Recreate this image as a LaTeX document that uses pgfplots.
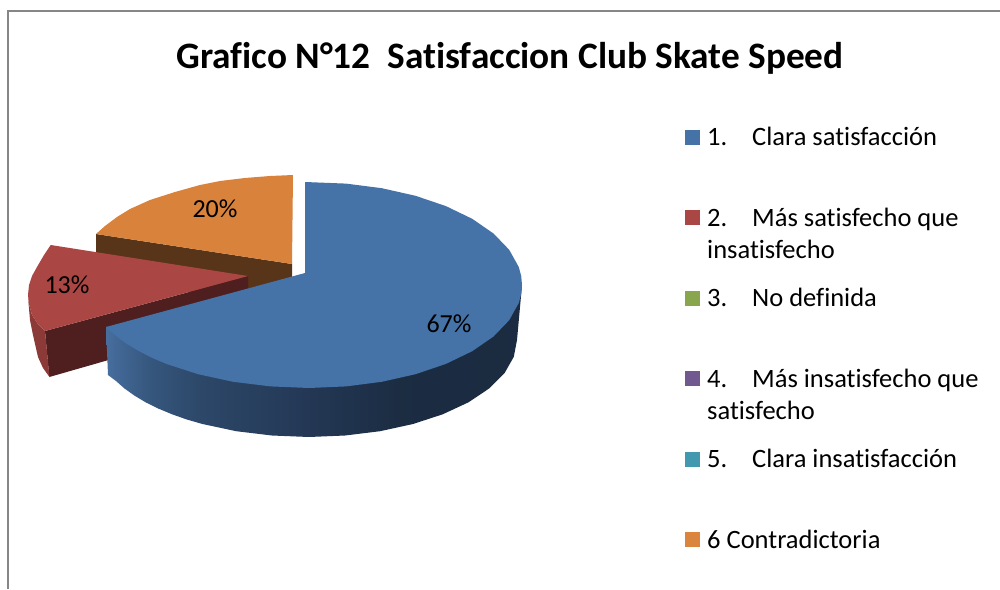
\documentclass[border=0pt]{standalone}
\usepackage{pgfplots}
\pgfplotsset{compat=1.18}
\usepackage{fontspec}
\setmainfont[Ligatures=CommonOff]{Carlito}
\definecolor{cblue}{RGB}{69,114,167}
\definecolor{cred}{RGB}{170,70,67}
\definecolor{cgreen}{RGB}{137,165,78}
\definecolor{cpurple}{RGB}{113,88,143}
\definecolor{cteal}{RGB}{65,152,175}
\definecolor{corange}{RGB}{219,132,61}
\definecolor{ctoporange}{RGB}{216,130,59}
\definecolor{dorange}{RGB}{88,52,24}
\definecolor{dred}{RGB}{79,30,31}
\definecolor{mred}{RGB}{140,58,56}
\definecolor{cframe}{RGB}{134,134,134}
\pgfdeclarehorizontalshading{blueside}{100bp}{
 rgb(0bp)=(0.28,0.43,0.62);
 rgb(25bp)=(0.28,0.43,0.62);
 rgb(30.3bp)=(0.21,0.34,0.49);
 rgb(36.3bp)=(0.175,0.28,0.41);
 rgb(48.9bp)=(0.14,0.22,0.335);
 rgb(60.3bp)=(0.108,0.175,0.26);
 rgb(75bp)=(0.105,0.17,0.255);
 rgb(100bp)=(0.105,0.17,0.255)}
\begin{document}
\begin{tikzpicture}
\begin{axis}[
  scale only axis, width=1000pt, height=589pt,
  xmin=0, xmax=1000, ymin=0, ymax=589, y dir=reverse,
  hide axis, clip=true]
% canvas
\addplot[draw=none, fill=white] coordinates {(0,0)(1000,0)(1000,589)(0,589)} -- cycle;
% frame
\addplot[line width=2pt, color=cframe] coordinates {(8,589)(8,11)(1000,11)};
% orange slice: 20 %
\addplot[draw=none, fill=dorange] coordinates {(96,234)(292,264)(292,292)(96,292)} -- cycle;
\addplot[draw=none, fill=ctoporange] coordinates {(293,175)(270,176)(245,178)(220,181)(200,185)(175,192)(150,200)(130,209)(117,217)(105,226)(96,234)(292,264)} -- cycle;
% red slice: 13 %
\addplot[draw=none, fill=dred] coordinates {(45,331)(248,276)(248,320)(49.3,377)} -- cycle;
\addplot[draw=none, fill=mred] coordinates {(28,297)(30,320)(33,335)(38,357)(43,368)(49.5,377)(45,331)(38,324)(32,315)(29,304)} -- cycle;
\addplot[draw=none, fill=cred] coordinates {(50.7,245)(44,255)(37,267)(32,276)(29,285)(28,295)(29,304)(32,315)(38,324)(45,331)(248,276)} -- cycle;
% blue slice: 67 %
\addplot[draw=none, shade, shading=blueside] coordinates {(522,285)(517,340)(513.8,356.8)(504.5,373.2)(489.1,388.5)(468.3,402.4)(442.7,414.3)(413,424)(380.1,431.2)(345.1,435.5)(309,437)(272,435.5)(236.2,431.2)(202.5,424)(186.8,419.5)(172.1,414.3)(158.4,408.6)(145.8,402.4)(134.5,395.6)(124.5,388.5)(116,381)(108,375)(106,327)} -- cycle;
\addplot[draw=none, fill=cblue] coordinates {(305,182)(346,183.6)(381.8,188.2)(415.5,195.8)(445.9,206.1)(472.2,218.8)(493.5,233.5)(509.2,249.8)(518.8,267.1)(521.2,276)(522,285)(521.2,294)(518.8,302.9)(509.2,320.2)(493.5,336.5)(472.2,351.2)(445.9,363.9)(415.5,374.2)(381.8,381.8)(346,386.4)(309,388)(270.5,386.4)(233.1,381.8)(198,374.2)(166.3,363.9)(152,357.8)(139,351.2)(127.1,344.1)(116.7,336.5)(106,327)(305,273)} -- cycle;
% legend keys
\addplot[draw=none, fill=cblue] coordinates {(685,130)(700,130)(700,145)(685,145)} -- cycle;
\addplot[draw=none, fill=cred] coordinates {(685,210)(700,210)(700,225)(685,225)} -- cycle;
\addplot[draw=none, fill=cgreen] coordinates {(685,291)(700,291)(700,306)(685,306)} -- cycle;
\addplot[draw=none, fill=cpurple] coordinates {(685,371)(700,371)(700,386)(685,386)} -- cycle;
\addplot[draw=none, fill=cteal] coordinates {(685,452)(700,452)(700,467)(685,467)} -- cycle;
\addplot[draw=none, fill=corange] coordinates {(685,532)(700,532)(700,547)(685,547)} -- cycle;
% title
\node[anchor=base, inner sep=0pt, font=\fontsize{37.3}{44}\selectfont\bfseries] at (axis cs:510,68) {Grafico N°12\hspace{0.22em} Satisfaccion Club Skate Speed};
% data labels
\node[anchor=center, inner sep=0pt, font=\fontsize{26}{30}\selectfont] at (axis cs:449,324) {67\%};
\node[anchor=center, inner sep=0pt, font=\fontsize{26}{30}\selectfont] at (axis cs:215,209) {20\%};
\node[anchor=center, inner sep=0pt, font=\fontsize{26}{30}\selectfont] at (axis cs:67,285) {13\%};
% legend text
\tikzset{leg/.style={anchor=base west, inner sep=0pt, font=\fontsize{26.5}{30}\selectfont}}
\node[leg] at (axis cs:707,145) {1.};
\node[leg] at (axis cs:752,145) {Clara satisfacción};
\node[leg] at (axis cs:707,226) {2.};
\node[leg] at (axis cs:752,226) {Más satisfecho que};
\node[leg] at (axis cs:707,258) {insatisfecho};
\node[leg] at (axis cs:707,306) {3.};
\node[leg] at (axis cs:752,306) {No definida};
\node[leg] at (axis cs:707,387) {4.};
\node[leg] at (axis cs:752,387) {Más insatisfecho que};
\node[leg] at (axis cs:707,419) {satisfecho};
\node[leg] at (axis cs:707,467) {5.};
\node[leg] at (axis cs:752,467) {Clara insatisfacción};
\node[leg] at (axis cs:707,548) {6 Contradictoria};
\end{axis}
\end{tikzpicture}
\end{document}
